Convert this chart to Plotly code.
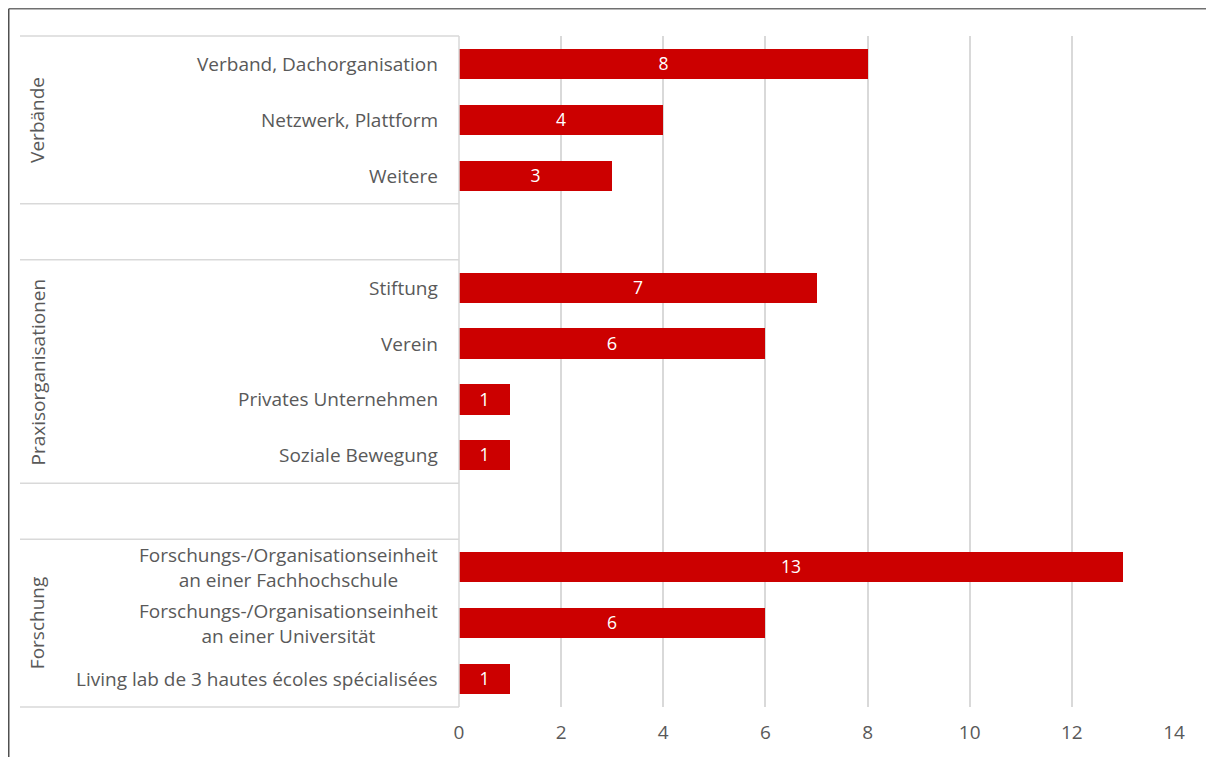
import plotly.graph_objects as go

# ---- data ----
categories = [
    "Verband, Dachorganisation",
    "Netzwerk, Plattform",
    "Weitere",
    "",
    "Stiftung",
    "Verein",
    "Privates Unternehmen",
    "Soziale Bewegung",
    "",
    "Forschungs-/Organisationseinheit<br>an einer Fachhochschule",
    "Forschungs-/Organisationseinheit<br>an einer Universität",
    "Living lab de 3 hautes écoles spécialisées",
]
values = [8, 4, 3, None, 7, 6, 1, 1, None, 13, 6, 1]
groups = ["Verbände", "", "Praxisorganisationen", "", "Forschung"]
group_sizes = [3, 1, 4, 1, 3]
x_ticks = [0, 2, 4, 6, 8, 10, 12, 14]

# ---- layout constants (page body has an 8px margin) ----
OFF = 8
W, H = 1214 - OFF, 757 - OFF
L, T = 459 - OFF, 36 - OFF
R = W - (1174 - OFF)
B = H - (707 - OFF)
PW, PH = W - L - R, H - T - B
FONT = "Open Sans"
TXT = "#595959"
GRID = "#d9d9d9"
RED = "#cc0000"

pos = list(range(len(categories)))
bar_vals = [v if v is not None else 0 for v in values]
bar_text = [str(v) if v is not None else "" for v in values]

fig = go.Figure()
fig.add_trace(go.Bar(
    x=bar_vals, y=pos, orientation="h",
    marker=dict(color=RED, line=dict(width=0)),
    width=0.54,
    text=bar_text, textposition="inside", insidetextanchor="middle",
    textangle=0, textfont=dict(color="white", size=19, family=FONT),
    hoverinfo="skip", cliponaxis=False,
))

def px_to_paper_x(px):
    return (px - OFF - L) / PW

def px_to_paper_y(py):
    return 1 - (py - OFF - T) / PH

annotations = []
for p, c in zip(pos, categories):
    if c:
        annotations.append(dict(
            x=0, xref="paper", y=p, yref="y", text=c, showarrow=False,
            xanchor="right", yanchor="middle", align="center", xshift=-19,
            font=dict(family=FONT, size=19, color=TXT),
        ))

shapes = []
start = 0
bounds = [-0.5]
for g, n in zip(groups, group_sizes):
    end = start + n
    bounds.append(end - 0.5)
    if g:
        annotations.append(dict(
            x=px_to_paper_x(37), xref="paper", y=(start + end - 1) / 2, yref="y",
            text=g, showarrow=False, textangle=-90,
            xanchor="center", yanchor="middle",
            font=dict(family=FONT, size=19, color=TXT),
        ))
    start = end

n = len(categories)
for b in bounds:
    yp = 1 - (b + 0.5) / n
    shapes.append(dict(type="line", xref="paper", yref="paper",
                       x0=px_to_paper_x(20), x1=0, y0=yp, y1=yp,
                       line=dict(color=GRID, width=1.5)))
# category axis line
shapes.append(dict(type="line", xref="paper", yref="paper",
                   x0=0, x1=0, y0=0, y1=1, line=dict(color=GRID, width=1.5)))
# outer chart border (cropped)
shapes.append(dict(type="line", xref="paper", yref="paper",
                   x0=px_to_paper_x(OFF + 0.75), x1=px_to_paper_x(1214 + 5),
                   y0=px_to_paper_y(OFF + 0.75), y1=px_to_paper_y(OFF + 0.75),
                   line=dict(color="#707070", width=1.5)))
shapes.append(dict(type="line", xref="paper", yref="paper",
                   x0=px_to_paper_x(OFF + 0.75), x1=px_to_paper_x(OFF + 0.75),
                   y0=px_to_paper_y(OFF + 0.75), y1=px_to_paper_y(757 + 5),
                   line=dict(color="#505050", width=1.5)))

fig.update_layout(
    width=W, height=H,
    margin=dict(l=L, r=R, t=T, b=B, pad=0),
    paper_bgcolor="white", plot_bgcolor="white",
    showlegend=False,
    font=dict(family=FONT, color=TXT, size=19),
    xaxis=dict(range=[0, 14], tickvals=x_ticks, ticktext=[str(t) for t in x_ticks],
               showgrid=True, gridcolor=GRID, gridwidth=1.5, zeroline=False,
               showline=False, ticks="", ticklabelstandoff=12,
               tickfont=dict(size=19, color=TXT, family=FONT),
               fixedrange=True),
    yaxis=dict(range=[n - 0.5, -0.5], showticklabels=False, showgrid=False,
               zeroline=False, showline=False, ticks="", fixedrange=True),
    annotations=annotations,
    shapes=shapes,
    bargap=0,
)

fig.write_html("out.html")
